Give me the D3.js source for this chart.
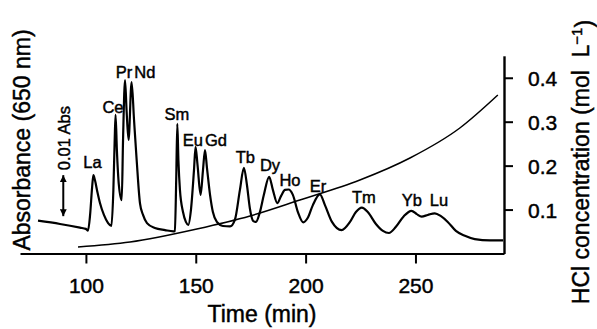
<!DOCTYPE html>
<html>
<head>
<meta charset="utf-8">
<script src="https://cdn.jsdelivr.net/npm/d3@7"></script>
<style>
  html, body { margin: 0; padding: 0; background: #fff; }
  svg { display: block; font-family: "Liberation Sans", Arial, Helvetica, sans-serif; }
  text { stroke: #000; stroke-width: 0.45px; }
</style>
</head>
<body>
<svg id="chart" width="597" height="329"></svg>
<script>
// ---- Data ----
// Chromatogram: time (min) and absorbance at 650 nm (units of 0.001 Abs, relative)
const traceTime = [78.2, 88.2, 97.3, 100.0, 100.95, 101.9, 102.8, 103.4, 104.1, 105.3, 106.4, 108.2, 110.1, 111.6,
  112.5, 113.1, 113.5, 114.1, 115.0, 116.3, 116.9, 117.8, 118.5, 119.4, 120.8, 121.9, 123.1, 124.6, 126.0, 127.8,
  131.4, 136.0, 139.8, 140.5, 141.1, 141.6, 142.1, 142.8, 144.2, 145.5, 146.6, 147.8, 149.2, 149.9, 150.8, 152.2,
  153.3, 154.2, 155.1, 156.5, 157.8, 159.6, 162.4, 165.6, 167.8, 170.1, 171.9, 173.3, 174.6, 176.2, 177.4, 179.2,
  181.0, 183.4, 185.1, 187.1, 188.8, 190.6, 192.2, 194.2, 196.5, 198.9, 201.0, 203.3, 206.5, 208.8, 212.0, 216.4,
  220.2, 222.9, 225.6, 228.3, 232.0, 235.2, 237.9, 241.1, 244.7, 248.2, 250.6, 252.8, 255.6, 258.8, 261.6, 264.7,
  268.4, 272.5, 277.0, 283.9, 289.9];
const absorbance = [8.0, 7.2, 6.3, 6.0, 5.6, 9.4, 16.0, 19.1, 17.9, 14.8, 12.3, 9.4, 7.4, 6.7,
  15.5, 27.7, 33.8, 25.2, 16.7, 13.0, 27.7, 42.3, 35.0, 27.7, 41.8, 32.6, 22.8, 12.3, 9.4, 7.4,
  6.2, 5.7, 5.4, 5.5, 17.9, 31.6, 22.8, 15.5, 10.1, 7.7, 7.0, 10.6, 20.4, 26.0, 21.6, 14.3,
  20.4, 25.2, 20.9, 14.3, 10.1, 7.7, 6.7, 6.6, 8.2, 15.5, 20.9, 16.7, 11.1, 7.9, 7.7, 10.1,
  14.3, 18.7, 15.5, 12.3, 14.0, 15.5, 15.6, 14.3, 10.1, 7.6, 8.7, 11.8, 14.4, 11.8, 7.7, 5.7,
  7.7, 10.1, 11.2, 10.1, 7.2, 5.5, 5.0, 6.5, 9.1, 10.4, 9.6, 9.0, 9.4, 9.8, 9.1, 7.7,
  5.5, 4.3, 3.5, 3.2, 3.2];

// HCl gradient: time (min) and concentration (mol/L)
const gradientTime = [96.4, 120.1, 150.5, 174.7, 197.4, 224.7, 247.5, 270.2, 287.5];
const gradientConc = [0.0148, 0.0262, 0.0558, 0.0854, 0.1218, 0.1673, 0.2174, 0.2857, 0.3608];

// Peak labels (element, label position in data units)
const peakNames = ["La", "Ce", "Pr", "Nd", "Sm", "Eu", "Gd", "Tb", "Dy", "Ho", "Er", "Tm", "Yb", "Lu"];
const peakLabelTime = [103.0, 112.3, 117.3, 126.8, 141.4, 148.7, 159.2, 172.6, 183.8, 192.9, 205.6, 226.5, 248.4, 260.7];
const peakLabelAbs = [20.9, 34.3, 42.8, 42.8, 32.6, 26.2, 26.2, 22.0, 20.0, 16.5, 15.1, 12.3, 11.5, 11.5];

// Axis ticks
const timeTicks = [100, 150, 200, 250];
const concTicks = [0.1, 0.2, 0.3, 0.4];

// Scale bar: 0.01 Abs (= 10 units)
const scaleBarTime = 89.7;
const scaleBarFrom = 9.1;
const scaleBarTo = 19.1;
const scaleBarLabel = "0.01 Abs";

// ---- Chart ----
const svg = d3.select("#chart");
const x = d3.scaleLinear().domain([70, 290.3]).range([20, 504]);
const yAbs = d3.scaleLinear().domain([0, 48.2]).range([253.5, 55.8]);
const yConc = d3.scaleLinear().domain([0, 0.45]).range([253.5, 55.8]);

// Bottom axis
const gx = svg.append("g").attr("transform", "translate(0,253.5)")
  .call(d3.axisBottom(x).tickValues(timeTicks).tickSize(10).tickSizeOuter(0).tickPadding(14.5).tickFormat(d3.format("d")));
gx.select(".domain").attr("stroke", "#000").attr("stroke-width", 2.2);
gx.selectAll(".tick line").attr("stroke", "#000").attr("stroke-width", 2);
gx.selectAll(".tick text").attr("font-size", 21).attr("fill", "#000").attr("font-family", null);

// Right axis
const gy = svg.append("g").attr("transform", "translate(504,0)")
  .call(d3.axisRight(yConc).tickValues(concTicks).tickSize(9).tickSizeOuter(0).tickPadding(15).tickFormat(d3.format(".1f")));
gy.select(".domain").attr("stroke", "#000").attr("stroke-width", 2.4);
gy.selectAll(".tick line").attr("stroke", "#000").attr("stroke-width", 2);
gy.selectAll(".tick text").attr("font-size", 21).attr("fill", "#000").attr("dy", "0.36em").attr("font-family", null);

// Gradient line
const pts = gradientTime.map((t, i) => [t, gradientConc[i]]);
svg.append("path")
  .attr("d", d3.line().x(d => x(d[0])).y(d => yConc(d[1])).curve(d3.curveMonotoneX)(pts))
  .attr("fill", "none").attr("stroke", "#000").attr("stroke-width", 1.5);

// Chromatogram trace
const tr = traceTime.map((t, i) => [t, absorbance[i]]);
svg.append("path")
  .attr("d", d3.line().x(d => x(d[0])).y(d => yAbs(d[1])).curve(d3.curveMonotoneX)(tr))
  .attr("fill", "none").attr("stroke", "#000").attr("stroke-width", 2.2).attr("stroke-linejoin", "round");

// Peak labels
svg.append("g").selectAll("text").data(peakNames).join("text")
  .attr("x", (d, i) => x(peakLabelTime[i]))
  .attr("y", (d, i) => yAbs(peakLabelAbs[i]))
  .attr("text-anchor", "middle").attr("font-size", 16.5).attr("fill", "#000")
  .text(d => d);

// Scale bar (double arrow)
const defs = svg.append("defs");
defs.append("marker").attr("id", "arr").attr("viewBox", "0 0 10 10").attr("refX", 10).attr("refY", 5)
  .attr("markerWidth", 7).attr("markerHeight", 7).attr("markerUnits", "userSpaceOnUse").attr("orient", "auto-start-reverse")
  .append("path").attr("d", "M0,0L10,5L0,10z").attr("fill", "#000");
const sbx = x(scaleBarTime);
svg.append("line").attr("x1", sbx).attr("x2", sbx)
  .attr("y1", yAbs(scaleBarFrom)).attr("y2", yAbs(scaleBarTo))
  .attr("stroke", "#000").attr("stroke-width", 2)
  .attr("marker-start", "url(#arr)").attr("marker-end", "url(#arr)");
svg.append("text")
  .attr("transform", `translate(${sbx + 6.5},${(yAbs(scaleBarTo) - 37)}) rotate(-90)`)
  .attr("text-anchor", "middle").attr("font-size", 16.5).attr("fill", "#000")
  .text(scaleBarLabel);

// Axis titles
svg.append("text").attr("x", 262).attr("y", 322).attr("text-anchor", "middle")
  .attr("font-size", 23).attr("fill", "#000").text("Time (min)");
svg.append("text").attr("transform", "translate(30,140) rotate(-90)").attr("text-anchor", "middle")
  .attr("font-size", 23).attr("fill", "#000").text("Absorbance (650 nm)");
const rt = svg.append("text").attr("transform", "translate(588.5,162) rotate(-90)").attr("text-anchor", "middle")
  .attr("font-size", 23).attr("fill", "#000");
rt.append("tspan").text("HCl concentration (mol\u00A0\u00A0L");
rt.append("tspan").attr("dy", "-0.45em").attr("font-size", 15).text("\u22121");
rt.append("tspan").attr("dy", "0.45em").text(")");
</script>
</body>
</html>
